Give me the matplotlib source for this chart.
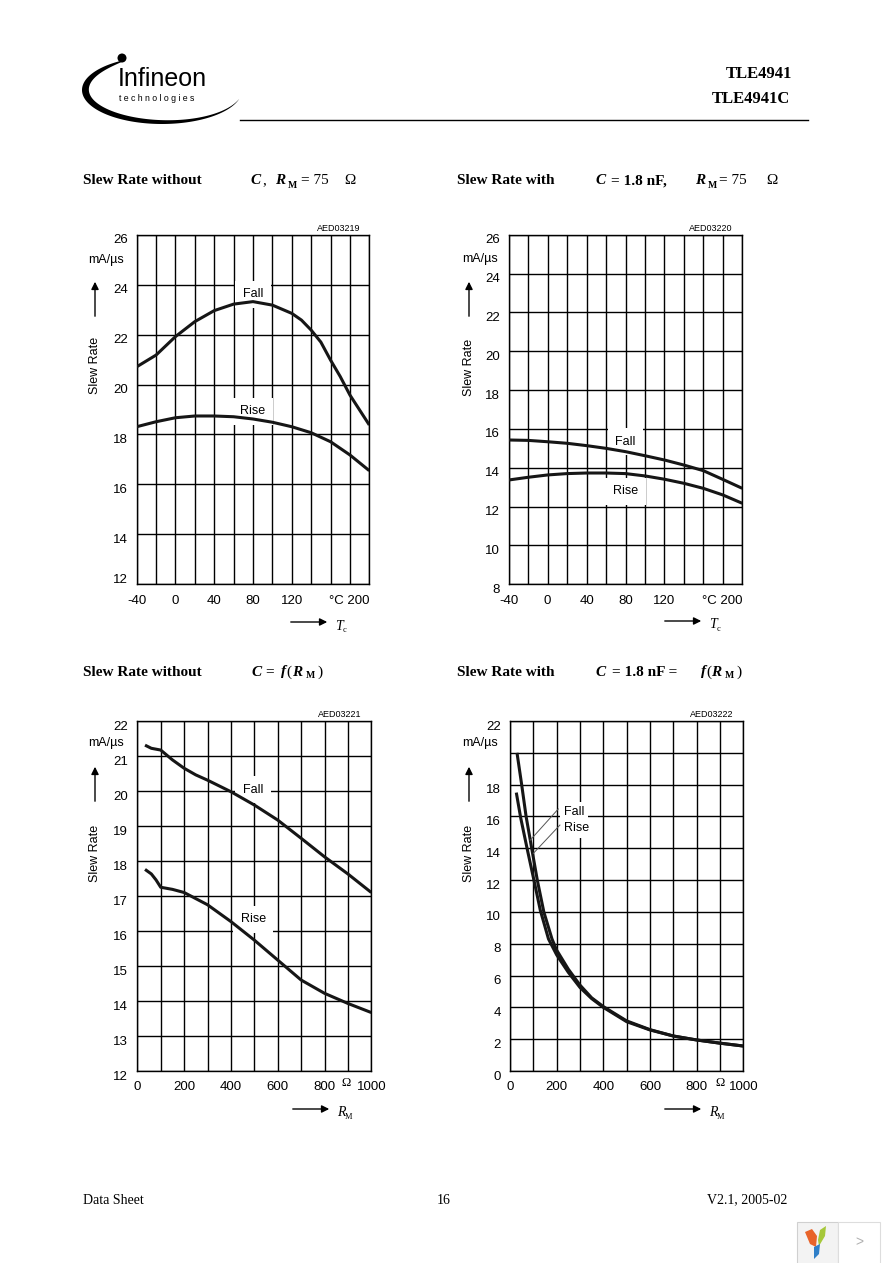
import numpy as np
import matplotlib
matplotlib.use('Agg')
import matplotlib.pyplot as plt
from matplotlib import font_manager
from matplotlib.patches import Rectangle, Polygon, Circle
from matplotlib.transforms import ScaledTranslation

# --- data ---
# slew rate vs. case temperature, R_M = 75 Ohm
temp_fall_noc = [-40, -20, 0, 20, 40, 60, 80, 100, 120, 130, 140, 150, 160, 170, 180, 190, 200]
fall_noc = [20.71, 21.18, 21.92, 22.52, 22.96, 23.22, 23.32, 23.18, 22.85, 22.58, 22.18, 21.70,
            20.98, 20.32, 19.58, 18.98, 18.38]
temp = [-40, -20, 0, 20, 40, 60, 80, 100, 120, 140, 160, 180, 200]
rise_noc = [18.31, 18.51, 18.67, 18.74, 18.74, 18.71, 18.62, 18.49, 18.31, 18.07, 17.71, 17.18, 16.55]
fall_c = [15.43, 15.41, 15.34, 15.26, 15.14, 15.00, 14.83, 14.62, 14.40, 14.14, 13.85, 13.40, 12.94]
rise_c = [13.37, 13.51, 13.63, 13.70, 13.73, 13.73, 13.70, 13.58, 13.41, 13.20, 12.94, 12.60, 12.17]

# slew rate vs. R_M
rm_fall_noc = [33, 60, 100, 150, 200, 250, 300, 400, 500, 600, 700, 800, 900, 1000]
fall_rm_noc = [21.31, 21.22, 21.17, 20.89, 20.65, 20.46, 20.31, 19.98, 19.60, 19.17, 18.65, 18.12, 17.63, 17.10]
rm_rise_noc = [33, 60, 80, 100, 150, 200, 300, 400, 500, 600, 700, 800, 900, 1000]
rise_rm_noc = [17.76, 17.63, 17.46, 17.25, 17.19, 17.10, 16.75, 16.27, 15.74, 15.17, 14.60, 14.22, 13.93, 13.67]
rm_fall_c = [30, 50, 69, 93, 117, 145, 180, 200, 250, 300, 350, 400, 500, 600, 700, 800, 900, 1000]
fall_rm_c = [20.0, 18.0, 16.0, 14.0, 12.0, 10.0, 8.3, 7.6, 6.4, 5.4, 4.6, 4.05, 3.15, 2.6, 2.2, 1.95, 1.75, 1.57]
rm_rise_c = [27, 46, 76, 104, 130, 165, 200, 250, 300, 350, 400, 500, 600, 700, 800, 900, 1000]
rise_rm_c = [17.5, 15.9, 13.8, 11.9, 10.1, 8.3, 7.3, 6.2, 5.25, 4.55, 4.0, 3.1, 2.58, 2.2, 1.95, 1.75, 1.57]

# tick labels
temp_labels = {-40: '-40', 0: '0', 40: '40', 80: '80', 120: '120', 200: '°C 200'}
rm_labels = {0: '0', 200: '200', 400: '400', 600: '600', 800: '800', 1000: '1000'}
y_labels_c = {v: str(v) for v in range(0, 23, 2) if v != 20}

names = {f.name for f in font_manager.fontManager.ttflist}
plt.rcParams['font.family'] = 'Liberation Sans'
SERIF = 'Liberation Serif'
NARROW = 'Liberation Sans Narrow' if 'Liberation Sans Narrow' in names else 'Liberation Sans'
W, H = 892, 1263
INK = '#161616'

fig = plt.figure(figsize=(W / 100, H / 100), dpi=100)

# page overlay in pixel coordinates
page = fig.add_axes([0, 0, 1, 1])
page.set_xlim(0, W)
page.set_ylim(H, 0)
page.axis('off')


def box(l, r, t, b):
    return [l / W, 1 - b / H, (r - l) / W, (b - t) / H]


def make_chart(rect, xlim, ylim, xgrid, xlab, ygrid, ylab, code):
    ax = fig.add_axes(box(*rect))
    ax.set_xlim(*xlim)
    ax.set_ylim(*ylim)
    ax.set_xticks(xgrid)
    ax.set_xticklabels([xlab.get(v, '') for v in xgrid])
    ax.set_yticks(ygrid)
    ax.set_yticklabels([ylab.get(v, '') for v in ygrid])
    ax.set_axisbelow(True)
    ax.grid(True, color='black', lw=1.0)
    ax.tick_params(length=0, labelsize=9.5, colors='black')
    ax.tick_params(axis='y', pad=6.5)
    ax.tick_params(axis='x', pad=7.5)
    for s in ax.spines.values():
        s.set_linewidth(1.0)
    xl = ax.get_xticklabels()
    if xlab.get(xgrid[-1], '').startswith('°'):
        xl[-1].set_ha('right')
    off = ScaledTranslation(0, -0.04, fig.dpi_scale_trans)
    for lab in ax.get_yticklabels():
        lab.set_transform(lab.get_transform() + off)
    ax.text(0.96, 1.005, code, transform=ax.transAxes, ha='right', va='bottom', fontsize=6.5)
    return ax


def label(ax, x, y, s, ha='center', pad=0.6):
    ax.text(x, y, s, ha=ha, va='center', fontsize=9, zorder=3,
            bbox=dict(boxstyle='square,pad=%s' % pad, fc='white', ec='none'))


def curve(ax, x, y):
    ax.plot(x, y, color=INK, lw=2.2, zorder=4, solid_capstyle='butt', solid_joinstyle='round')


# chart 1
ax1 = make_chart((136.7, 369.3, 234.7, 584.3), (-40, 200), (12, 26), list(range(-40, 201, 20)),
                 temp_labels, list(range(12, 27, 2)), {v: str(v) for v in range(12, 27, 2)}, 'AED03219')
ax1.get_yticklabels()[0].set_transform(ax1.get_yticklabels()[0].get_transform()
                                       + ScaledTranslation(0, 0.1, fig.dpi_scale_trans))
label(ax1, 80, 23.62, 'Fall')
label(ax1, 80, 18.93, 'Rise')
curve(ax1, temp_fall_noc, fall_noc)
curve(ax1, temp, rise_noc)

# chart 2
ax2 = make_chart((508.7, 742.3, 234.7, 584.3), (-40, 200), (8, 26), list(range(-40, 201, 20)),
                 temp_labels, list(range(8, 27, 2)), {v: str(v) for v in range(8, 27, 2)}, 'AED03220')
label(ax2, 80, 15.34, 'Fall')
label(ax2, 80, 12.8, 'Rise')
curve(ax2, temp, fall_c)
curve(ax2, temp, rise_c)

# chart 3
ax3 = make_chart((137.3, 371.3, 721, 1071), (0, 1000), (12, 22), list(range(0, 1001, 100)),
                 rm_labels, list(range(12, 23)), {v: str(v) for v in range(12, 23)}, 'AED03221')
label(ax3, 495, 20.03, 'Fall')
label(ax3, 495, 16.33, 'Rise')
curve(ax3, rm_fall_noc, fall_rm_noc)
curve(ax3, rm_rise_noc, rise_rm_noc)

# chart 4
ax4 = make_chart((510, 743.3, 721, 1071), (0, 1000), (0, 22), list(range(0, 1001, 100)),
                 rm_labels, list(range(0, 23, 2)), y_labels_c, 'AED03222')
label(ax4, 232, 16.3, 'Fall', ha='left', pad=0.3)
label(ax4, 232, 15.25, 'Rise', ha='left', pad=0.3)
ax4.plot([207, 86], [16.47, 14.5], color='#555555', lw=0.7, zorder=5)
ax4.plot([214, 100], [15.46, 13.68], color='#555555', lw=0.7, zorder=5)
curve(ax4, rm_fall_c, fall_rm_c)
curve(ax4, rm_rise_c, rise_rm_c)

# axis annotations (units, arrows, names)
for ax_x, unit_y, arrow_top, name_y in [(95, 260, 279, 365), (469, 259, 279, 367),
                                        (95, 743, 764, 853), (469, 743, 764, 853)]:
    page.text(ax_x + 11, unit_y, 'mA/µs', ha='center', va='center', fontsize=9)
    page.annotate('', xy=(ax_x, arrow_top), xytext=(ax_x, arrow_top + 40),
                  arrowprops=dict(arrowstyle='-|>', color='black', lw=1.0, mutation_scale=11))
    page.text(ax_x, name_y, 'Slew Rate', rotation=90, ha='center', va='center', fontsize=9)

for x0, y0, sym, sub in [(288, 622, 'T', 'c'), (662, 621, 'T', 'c'),
                         (290, 1109, 'R', 'M'), (662, 1109, 'R', 'M')]:
    page.annotate('', xy=(x0 + 42, y0), xytext=(x0, y0),
                  arrowprops=dict(arrowstyle='-|>', color='black', lw=1.0, mutation_scale=11))
    page.text(x0 + 47, y0 + 4, sym, family=SERIF, style='italic', fontsize=10, ha='left', va='center')
    page.text(x0 + 55, y0 + 8, sub, family=SERIF, fontsize=6, ha='left', va='center')

page.text(346, 1083, 'Ω', family=SERIF, fontsize=9, ha='center', va='center')
page.text(720, 1083, 'Ω', family=SERIF, fontsize=9, ha='center', va='center')


# chart titles
def title_piece(x, y, s, style='normal', weight='bold', size=11):
    page.text(x, y, s, family=SERIF, style=style, weight=weight, fontsize=size, ha='left', va='center')


for x, y in [(83, 181), (83, 672)]:
    title_piece(x, y, 'Slew Rate without')
for x, y in [(457, 181), (457, 672)]:
    title_piece(x, y, 'Slew Rate with')

title_piece(250, 181, 'C', 'italic')
title_piece(262, 181, ',', weight='normal')
title_piece(275, 181, 'R', 'italic')
title_piece(288, 185, 'M', size=7)
title_piece(301, 181, '= 75', weight='normal')
title_piece(344, 181, 'Ω', weight='normal')

title_piece(595, 181, 'C', 'italic')
title_piece(611, 181, '= 1.8 nF,')
title_piece(695, 181, 'R', 'italic')
title_piece(708, 185, 'M', size=7)
title_piece(719, 181, '= 75', weight='normal')
title_piece(766, 181, 'Ω', weight='normal')

title_piece(251, 672, 'C', 'italic')
title_piece(265, 672, '=')
title_piece(281, 672, 'f', 'italic')
title_piece(286, 672, '(', weight='normal')
title_piece(292, 672, 'R', 'italic')
title_piece(306, 676, 'M', size=7)
title_piece(317, 672, ')', weight='normal')

title_piece(595, 672, 'C', 'italic')
title_piece(612, 672, '= 1.8 nF =')
title_piece(701, 672, 'f', 'italic')
title_piece(706, 672, '(', weight='normal')
title_piece(711, 672, 'R', 'italic')
title_piece(725, 676, 'M', size=7)
title_piece(736, 672, ')', weight='normal')

# header logo: swoosh, dot, wordmark
t = np.linspace(np.radians(118), np.radians(345), 120)
cx, cy, a, b = 162, 90, 80, 34
u = ((t - t[0]) / (t[-1] - t[0])) ** 0.65
w = 7.0 * np.sin(u * np.pi) ** 0.9
outer = np.column_stack([cx + a * np.cos(t), cy - b * np.sin(t)])
inner = np.column_stack([cx + (a - w) * np.cos(t), cy - (b - w * 0.8) * np.sin(t)])
page.add_patch(Polygon(np.vstack([outer, inner[::-1]]), closed=True, fc='black', ec='none'))
page.add_patch(Circle((122, 58), 4.5, fc='black', ec='none'))
page.text(118, 79, 'Infineon', family=NARROW, fontsize=18, ha='left', va='center')
page.text(119, 98.5, 't e c h n o l o g i e s', fontsize=6.3, ha='left', va='center')

page.text(792, 74, 'TLE4941', family=SERIF, weight='bold', fontsize=12, ha='right', va='center')
page.text(790, 99, 'TLE4941C', family=SERIF, weight='bold', fontsize=12, ha='right', va='center')
page.plot([240, 808], [120, 120], color='black', lw=1.0)

# footer
page.text(83, 1200, 'Data Sheet', family=SERIF, fontsize=10, ha='left', va='center')
page.text(444, 1200, '16', family=SERIF, fontsize=10, ha='center', va='center')
page.text(787, 1200, 'V2.1, 2005-02', family=SERIF, fontsize=10, ha='right', va='center')

# viewer widget in the corner
page.add_patch(Rectangle((797, 1222), 41, 42, fc='#f3f3f3', ec='#d0d0d0', lw=0.8))
page.add_patch(Rectangle((838, 1222), 42, 42, fc='white', ec='#dddddd', lw=0.8))
page.text(859, 1242, '>', color='#b0b0b0', fontsize=10, ha='center', va='center')
page.add_patch(Polygon([(805, 1232), (812, 1229), (817, 1236), (816, 1247), (810, 1244)],
                       fc='#e8642a', ec='none'))
page.add_patch(Polygon([(818, 1240), (820, 1230), (826, 1226), (825, 1236), (819, 1246)],
                       fc='#a6c83a', ec='none'))
page.add_patch(Polygon([(814, 1247), (820, 1244), (819, 1254), (814, 1259)],
                       fc='#2f7fc8', ec='none'))

fig.savefig('out.png', dpi=100)
